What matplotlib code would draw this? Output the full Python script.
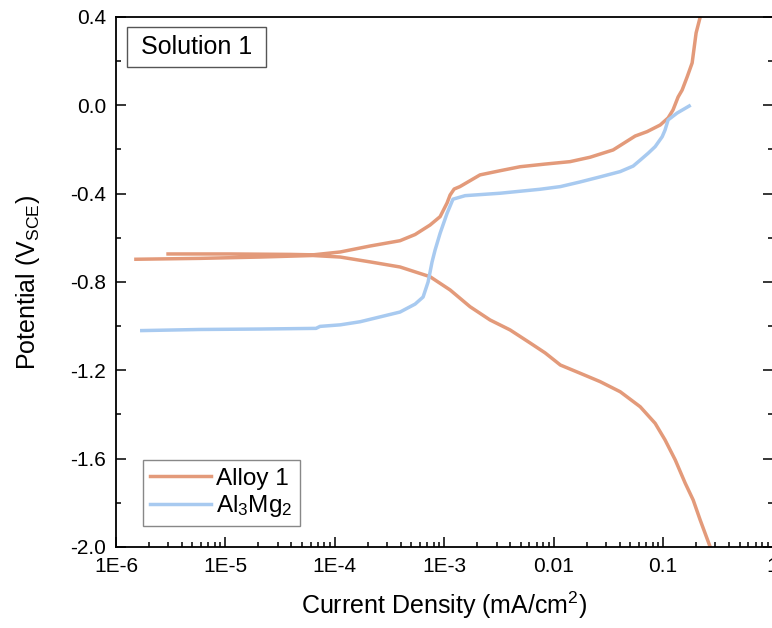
import matplotlib
matplotlib.use('Agg')
import numpy as np
import matplotlib.pyplot as plt
from matplotlib.patches import Rectangle
from matplotlib.ticker import FixedLocator, LogLocator, NullFormatter, MultipleLocator

plt.rcParams['font.family'] = ['Liberation Sans', 'DejaVu Sans']
plt.rcParams['mathtext.default'] = 'regular'

# Alloy 1, cathodic branch (from -2.0 V upward), current in mA/cm2, potential in V_SCE
alloy_cath_i = [0.269, 0.218, 0.188, 0.159, 0.129, 0.104, 0.0845, 0.0617, 0.0405, 0.0265,
                0.0174, 0.0115, 0.00834, 0.00608, 0.00399, 0.00262, 0.00172, 0.00113,
                0.000741, 0.000394, 0.000210, 0.000112, 6.3e-5, 2.07e-5, 5.86e-6, 1.52e-6]
alloy_cath_e = [-2.0, -1.878, -1.787, -1.711, -1.606, -1.515, -1.440, -1.365, -1.297, -1.251,
                -1.213, -1.176, -1.121, -1.076, -1.017, -0.972, -0.912, -0.836,
                -0.776, -0.732, -0.709, -0.687, -0.680, -0.687, -0.693, -0.697]

# Alloy 1, anodic branch
alloy_anod_i = [2.99e-6, 1.10e-5, 3.89e-5, 6.32e-5, 1.12e-4, 2.10e-4, 3.94e-4, 5.41e-4, 7.41e-4,
                9.16e-4, 1.06e-3, 1.13e-3, 1.23e-3, 1.39e-3, 2.12e-3, 3.24e-3, 4.93e-3, 8.34e-3,
                1.41e-2, 2.15e-2, 3.49e-2, 5.55e-2, 7.14e-2, 9.40e-2, 0.111, 0.123, 0.137,
                0.149, 0.166, 0.184, 0.200, 0.218]
alloy_anod_e = [-0.673, -0.673, -0.675, -0.677, -0.664, -0.637, -0.613, -0.585, -0.542,
                -0.504, -0.442, -0.406, -0.379, -0.368, -0.315, -0.296, -0.278, -0.266,
                -0.255, -0.235, -0.202, -0.139, -0.119, -0.089, -0.057, -0.021, 0.038,
                0.069, 0.130, 0.192, 0.328, 0.400]

# Al3Mg2
mg_i = [1.72e-6, 5.86e-6, 2.07e-5, 6.73e-5, 7.32e-5, 1.12e-4, 1.70e-4, 2.59e-4, 3.94e-4,
        5.41e-4, 6.40e-4, 7.11e-4, 7.73e-4, 8.24e-4, 9.16e-4, 1.06e-3, 1.20e-3, 1.55e-3,
        3.24e-3, 7.52e-3, 1.15e-2, 1.74e-2, 2.65e-2, 4.05e-2, 5.32e-2, 6.17e-2, 7.29e-2,
        8.45e-2, 9.80e-2, 0.104, 0.111, 0.134, 0.173]
mg_e = [-1.020, -1.015, -1.013, -1.010, -1.001, -0.994, -0.980, -0.958, -0.936,
        -0.900, -0.868, -0.800, -0.709, -0.655, -0.579, -0.489, -0.425, -0.409,
        -0.398, -0.380, -0.368, -0.347, -0.324, -0.300, -0.275, -0.248, -0.217,
        -0.187, -0.142, -0.112, -0.066, -0.035, -0.003]

x_ticks = [1e-6, 1e-5, 1e-4, 1e-3, 1e-2, 1e-1, 1]
x_labels = ['1E-6', '1E-5', '1E-4', '1E-3', '0.01', '0.1', '1']
y_ticks = [0.4, 0.0, -0.4, -0.8, -1.2, -1.6, -2.0]

orange = '#E39A7A'
blue = '#A8CAF0'

fig = plt.figure(figsize=(7.72, 6.28), dpi=100)
ax = fig.add_axes([116 / 772, 1 - 547 / 628, 656.6 / 772, 530 / 628])

alloy_i = alloy_cath_i + [np.nan] + alloy_anod_i
alloy_e = alloy_cath_e + [np.nan] + alloy_anod_e
ax.plot(alloy_i, alloy_e, color=orange, lw=2.5, label='Alloy 1', solid_joinstyle='round')
ax.plot(mg_i, mg_e, color=blue, lw=2.5, label=r'Al$_3$Mg$_2$', solid_joinstyle='round')

ax.set_xscale('log')
ax.set_xlim(1e-6, 1)
ax.set_ylim(-2.0, 0.4)

ax.xaxis.set_major_locator(FixedLocator(x_ticks))
ax.set_xticklabels(x_labels)
ax.xaxis.set_minor_locator(LogLocator(base=10, subs=np.arange(2, 10)))
ax.xaxis.set_minor_formatter(NullFormatter())
ax.set_yticks(y_ticks)
ax.set_yticklabels(['%.1f' % v for v in y_ticks])
ax.yaxis.set_minor_locator(MultipleLocator(0.2))

ax.tick_params(which='both', direction='in', top=False, right=True, labelsize=15, width=1.1)
ax.tick_params(which='major', length=7.2, pad=7)
ax.tick_params(which='minor', length=3.4)
for s in ax.spines.values():
    s.set_linewidth(1.3)

ax.set_xlabel(r'Current Density (mA/cm$^2$)', fontsize=18, labelpad=10)
ax.set_ylabel(r'Potential (V$_{SCE}$)', fontsize=18, labelpad=20)

leg = ax.legend(loc='lower left', bbox_to_anchor=(0.03, 0.025), fontsize=17.5, frameon=True,
                fancybox=False, edgecolor='#888888', framealpha=1, handlelength=2.5,
                handletextpad=0.2, borderpad=0.3, labelspacing=0.15, borderaxespad=0.3)
leg.get_frame().set_linewidth(1.0)

ax.add_patch(Rectangle((11 / 656.6, 480 / 530), 139 / 656.6, 40 / 530, transform=ax.transAxes,
                       facecolor='white', edgecolor='#555555', lw=1.0, zorder=5))
ax.text((11 + 69.5) / 656.6, 500 / 530, 'Solution 1', transform=ax.transAxes, fontsize=18,
        ha='center', va='center', zorder=6)

fig.savefig('out.png', dpi=100)
